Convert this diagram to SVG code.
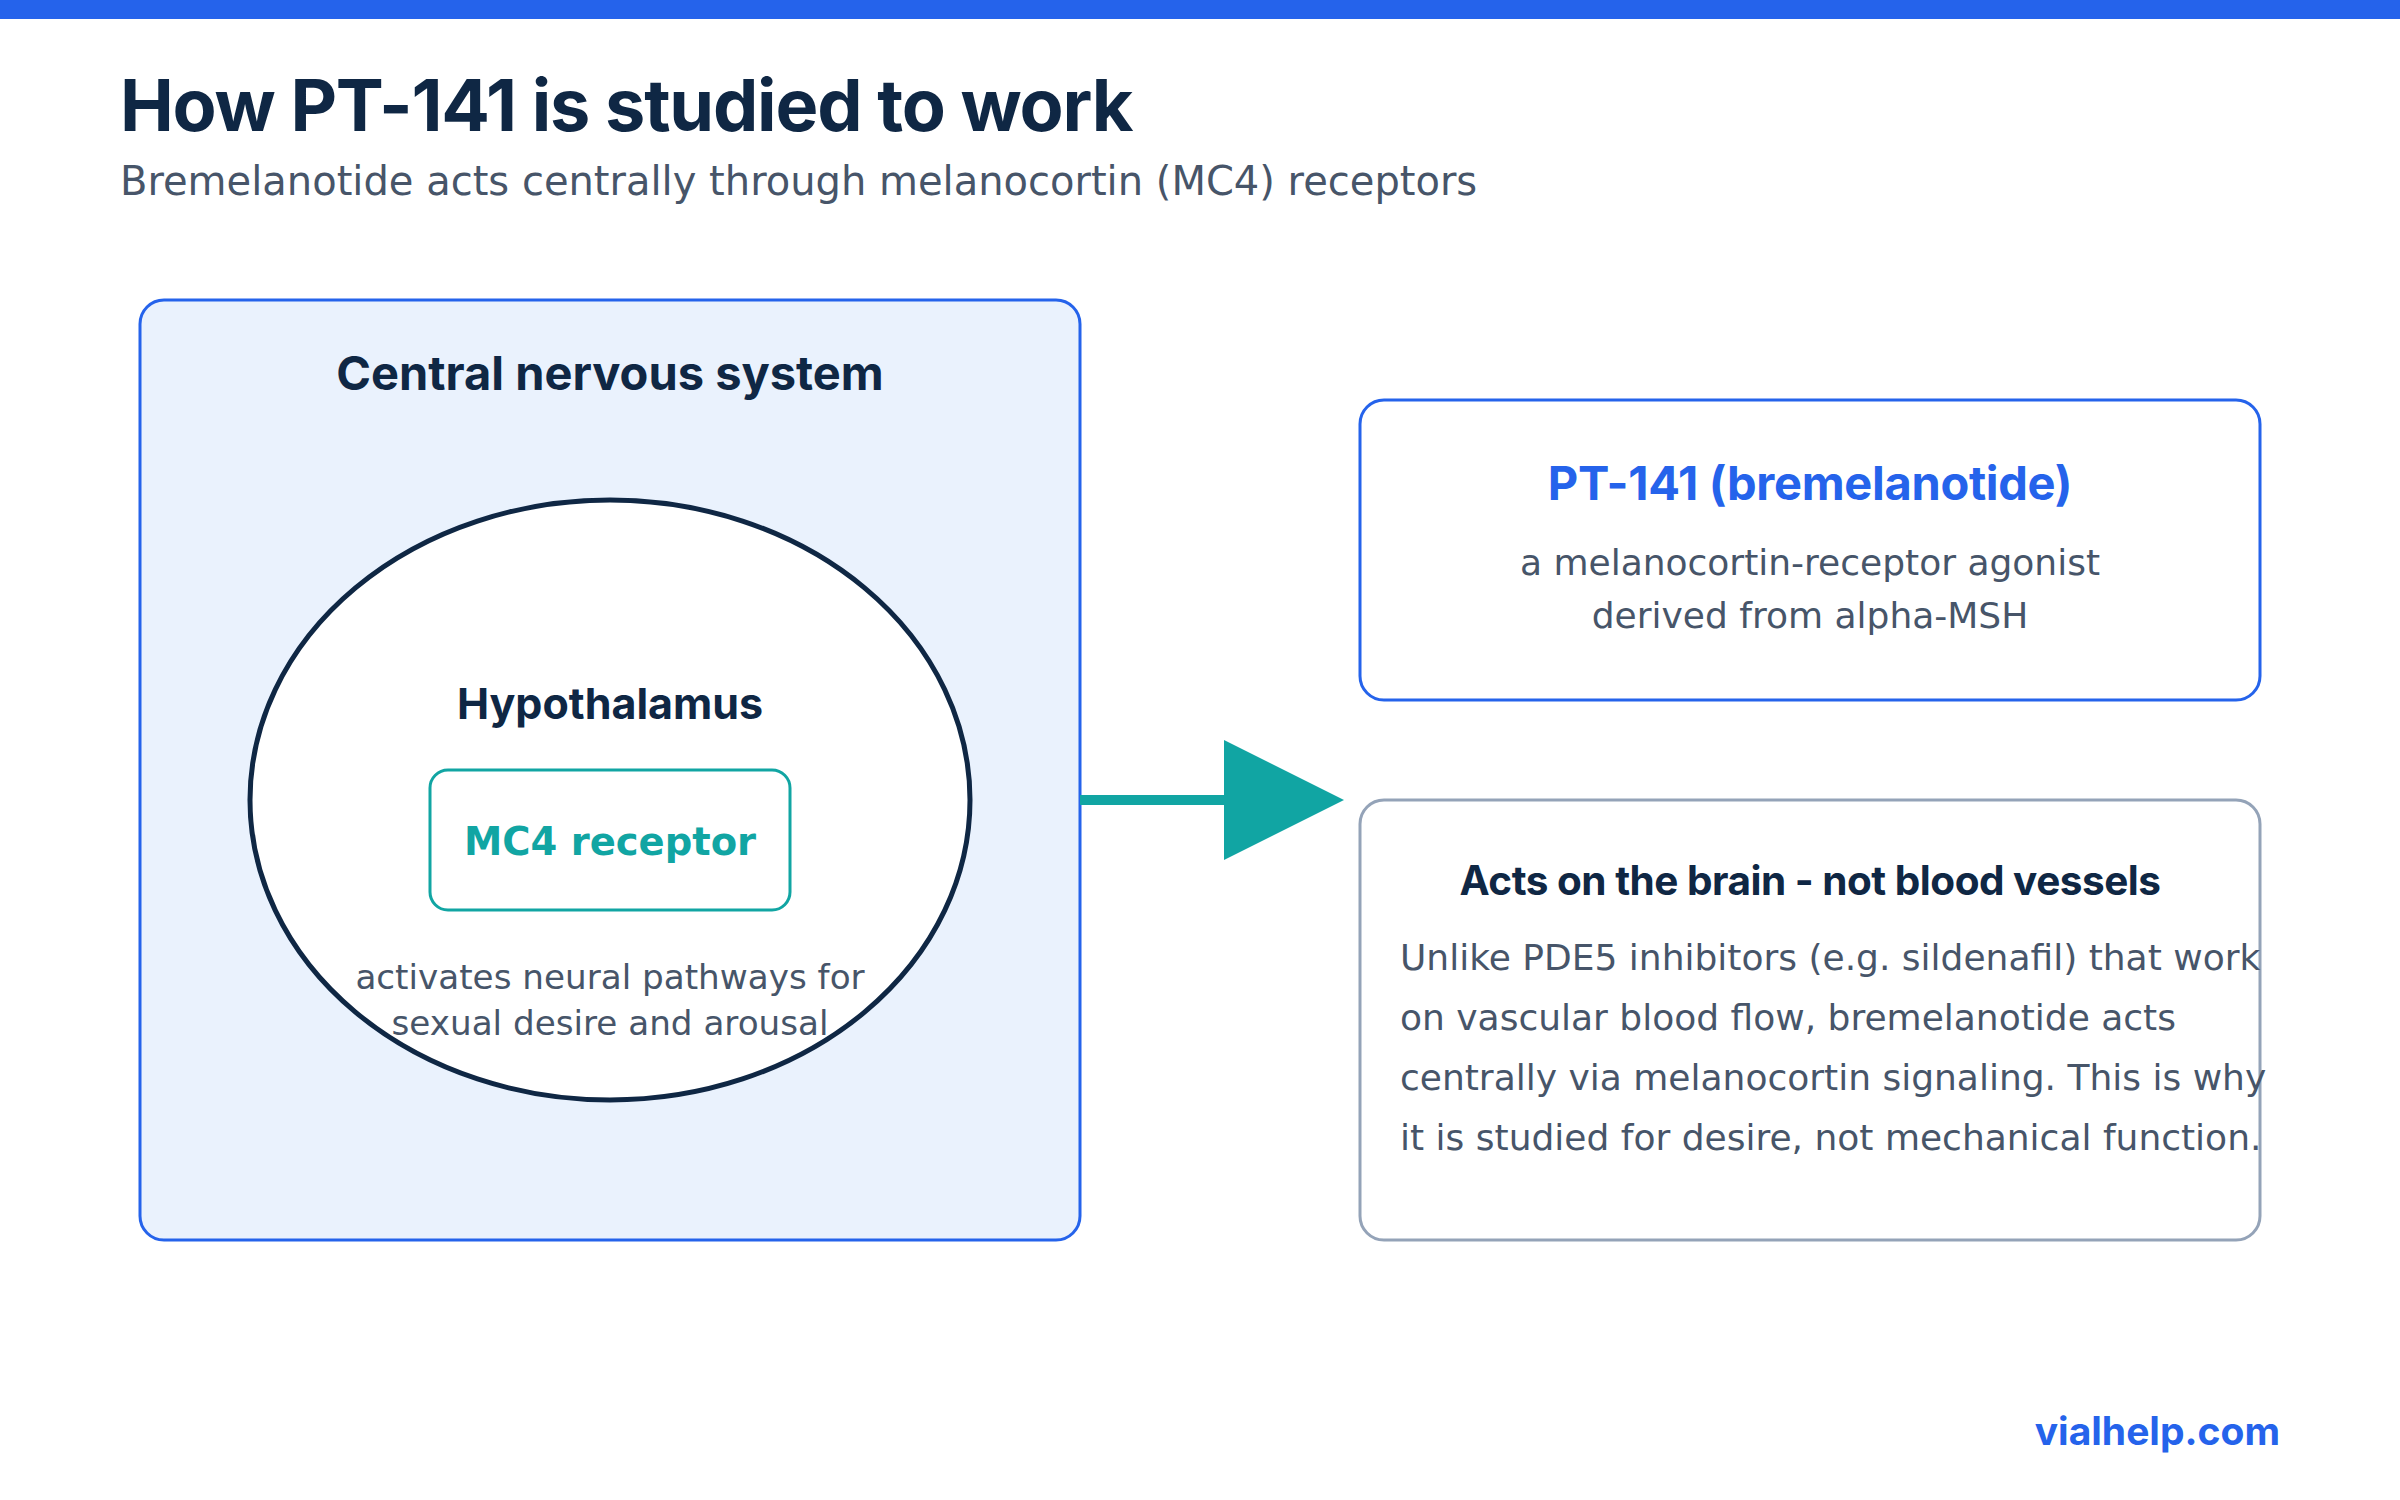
<svg xmlns="http://www.w3.org/2000/svg" width="2400" height="1500" viewBox="0 0 2400 1500">
<defs>
<style>
.head{font-family:Inter,"Liberation Sans",sans-serif;font-weight:700;fill:#0F2744}
.body{font-family:"DejaVu Sans",sans-serif;fill:#475569}
.blue{fill:#2563EB}
</style>
<marker id="arr" viewBox="0 0 12 12" refX="0" refY="6" markerWidth="12" markerHeight="12" orient="auto" markerUnits="strokeWidth">
<path d="M0,0 L12,6 L0,12 Z" fill="#11A5A3"/>
</marker>
</defs>
<rect x="0" y="0" width="2400" height="1500" fill="#FFFFFF"/>
<rect x="0" y="0" width="2400" height="19" fill="#2563EB"/>
<text class="head" x="120" y="131" font-size="72" letter-spacing="-1.2">How PT-141 is studied to work</text>
<text class="body" x="120" y="195" font-size="40">Bremelanotide acts centrally through melanocortin (MC4) receptors</text>

<g id="cns">
<rect x="140" y="300" width="940" height="940" rx="24" fill="#EAF2FD" stroke="#2563EB" stroke-width="3"/>
<text class="head" x="610" y="390" font-size="47" text-anchor="middle">Central nervous system</text>
</g>
<g id="hypothalamus">
<ellipse cx="610" cy="800" rx="360" ry="300" fill="#FFFFFF" stroke="#0F2744" stroke-width="5"/>
<text class="head" x="610" y="719" font-size="43" text-anchor="middle">Hypothalamus</text>
<text class="body" x="610" y="989" font-size="34.2" text-anchor="middle">activates neural pathways for</text>
<text class="body" x="610" y="1035" font-size="34.2" text-anchor="middle">sexual desire and arousal</text>
</g>
<g id="mc4">
<rect x="430" y="770" width="360" height="140" rx="18" fill="#FFFFFF" stroke="#11A5A3" stroke-width="3"/>
<text x="610" y="855" font-family="DejaVu Sans,sans-serif" font-weight="700" font-size="38.5" fill="#11A5A3" text-anchor="middle">MC4 receptor</text>
</g>
<g id="pt141">
<rect x="1360" y="400" width="900" height="300" rx="24" fill="#FFFFFF" stroke="#2563EB" stroke-width="3"/>
<text class="head blue" x="1810" y="500" font-size="47" text-anchor="middle" letter-spacing="-0.3">PT-141 (bremelanotide)</text>
<text class="body" x="1810" y="575" font-size="36" text-anchor="middle">a melanocortin-receptor agonist</text>
<text class="body" x="1810" y="628" font-size="36" text-anchor="middle">derived from alpha-MSH</text>
</g>
<g id="note">
<rect x="1360" y="800" width="900" height="440" rx="24" fill="#FFFFFF" stroke="#94A3B8" stroke-width="3"/>
<text class="head" x="1810" y="895" font-size="40.5" text-anchor="middle" letter-spacing="-0.5">Acts on the brain - not blood vessels</text>
<text class="body" x="1400" y="970" font-size="36">Unlike PDE5 inhibitors (e.g. sildenafil) that work</text>
<text class="body" x="1400" y="1030" font-size="36">on vascular blood flow, bremelanotide acts</text>
<text class="body" x="1400" y="1090" font-size="36">centrally via melanocortin signaling. This is why</text>
<text class="body" x="1400" y="1150" font-size="36">it is studied for desire, not mechanical function.</text>
</g>
<g id="connectors">
<line x1="1080" y1="800" x2="1224" y2="800" stroke="#11A5A3" stroke-width="10" marker-end="url(#arr)"/>
</g>
<text class="head blue" x="2280" y="1445" font-size="39" text-anchor="end">vialhelp.com</text>
</svg>
